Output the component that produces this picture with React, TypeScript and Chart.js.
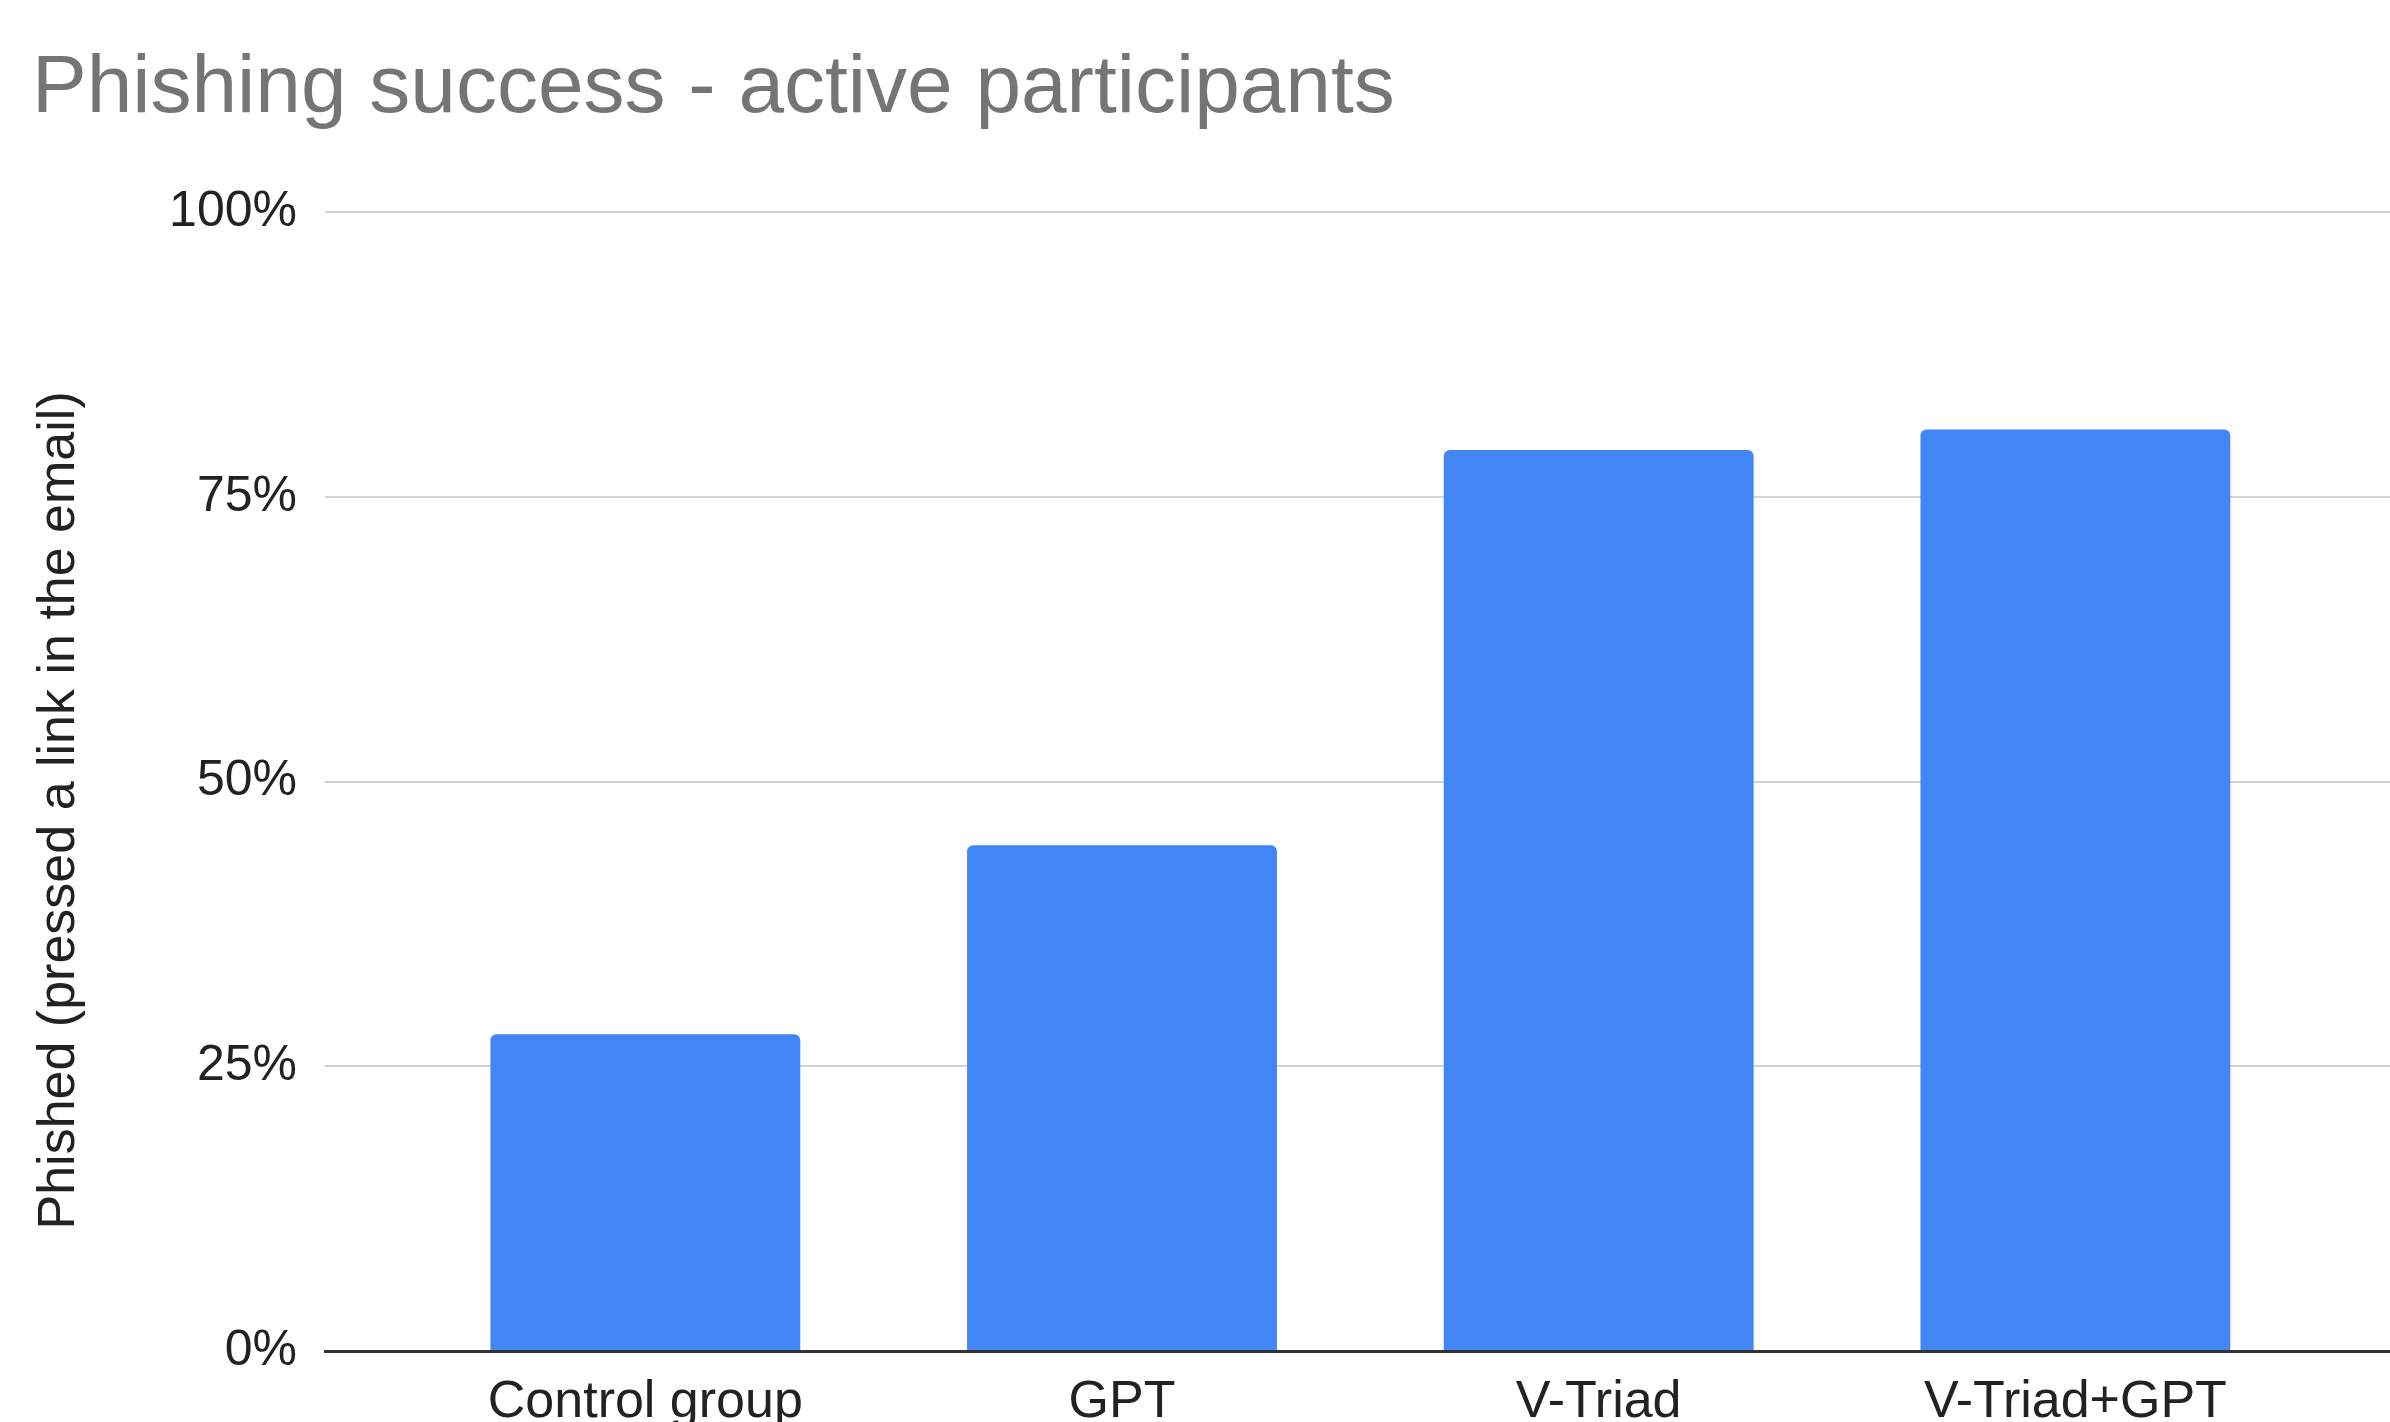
import { useEffect, useRef } from "react";
import Chart from "chart.js/auto";

const categories = ["Control group", "GPT", "V-Triad", "V-Triad+GPT"];
const phishedPct = [27.8, 44.4, 79.1, 80.9];
const yTickStep = 25;
const chartTitle = "Phishing success - active participants";
const yAxisTitle = "Phished (pressed a link in the email)";

const FONT = "'Liberation Sans', Arial, sans-serif";

export default function App() {
  const ref = useRef<HTMLCanvasElement>(null);

  useEffect(() => {
    const chart = new Chart(ref.current as HTMLCanvasElement, {
      type: "bar",
      data: {
        datasets: [
          {
            data: categories.map((_, i) => ({ x: i, y: phishedPct[i] })),
            backgroundColor: "#4285F4",
            borderRadius: 6,
            barPercentage: 0.65,
            categoryPercentage: 1,
          } as any,
        ],
      },
      options: {
        animation: false,
        responsive: false,
        layout: { padding: { left: 32, top: 0, right: 0, bottom: 0 } },
        plugins: {
          legend: { display: false },
          tooltip: { enabled: false },
          title: {
            display: true,
            text: chartTitle,
            align: "start",
            color: "#757575",
            font: { family: FONT, size: 82, weight: "normal", lineHeight: 1.2 },
            padding: { top: 40, bottom: 73.6 },
          },
        },
        scales: {
          x: {
            type: "linear",
            offset: false,
            min: -0.672,
            max: 3.66,
            grid: { display: false, drawTicks: false, offset: false },
            border: { display: true, color: "#333333", width: 3, z: 1 } as any,
            afterBuildTicks: (s: any) => {
              s.ticks = categories.map((_, i) => ({ value: i }));
            },
            afterFit: (s: any) => {
              s.height = 80;
            },
            ticks: {
              autoSkip: false,
              maxRotation: 0,
              padding: 20,
              color: "#222222",
              font: { family: FONT, size: 52 },
              callback: (v: any) => categories[v as number] ?? "",
            },
          },
          y: {
            min: 0,
            max: 100,
            grid: { color: "#d3d3d3", lineWidth: 2, drawTicks: false },
            border: { display: false },
            afterFit: (s: any) => {
              s.width = 293;
            },
            ticks: {
              stepSize: yTickStep,
              padding: 28,
              color: "#222222",
              font: { family: FONT, size: 50 },
              callback: (v: any) => `${v}%`,
            },
            title: {
              display: true,
              text: yAxisTitle + "    ",
              color: "#222222",
              font: { family: FONT, size: 52, lineHeight: 1.05 },
              padding: { top: 0, bottom: 0 },
            },
          },
        },
      } as any,
    });
    return () => chart.destroy();
  }, []);

  return (
    <div
      style={{
        position: "fixed",
        left: 0,
        top: 0,
        width: 2390,
        height: 1422,
        overflow: "hidden",
        background: "#ffffff",
      }}
    >
      <canvas ref={ref} width={2390} height={1431} style={{ display: "block" }} />
    </div>
  );
}
